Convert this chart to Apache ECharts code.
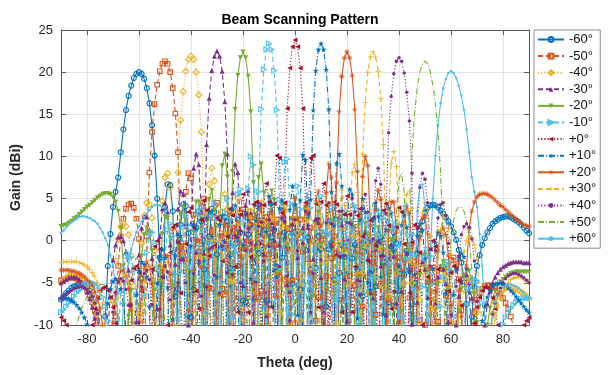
<!DOCTYPE html>
<html><head><meta charset="utf-8">
<script src="https://cdn.jsdelivr.net/npm/echarts@6/dist/echarts.min.js"></script>
<style>html,body{margin:0;padding:0;background:#fff}#c{width:608px;height:375px}</style>
</head><body><div id="c"></div>
<script>
// ---- data ----
const theta = [-90,-89,-88,-87,-86,-85,-84,-83,-82,-81,-80,-79,-78,-77,-76,-75,-74,-73,-72,-71,-70,-69,-68,-67,-66,-65,-64,-63,-62,-61,-60,-59,-58,-57,-56,-55,-54,-53,-52,-51,-50,-49,-48,-47,-46,-45,-44,-43,-42,-41,-40,-39,-38,-37,-36,-35,-34,-33,-32,-31,-30,-29,-28,-27,-26,-25,-24,-23,-22,-21,-20,-19,-18,-17,-16,-15,-14,-13,-12,-11,-10,-9,-8,-7,-6,-5,-4,-3,-2,-1,0,1,2,3,4,5,6,7,8,9,10,11,12,13,14,15,16,17,18,19,20,21,22,23,24,25,26,27,28,29,30,31,32,33,34,35,36,37,38,39,40,41,42,43,44,45,46,47,48,49,50,51,52,53,54,55,56,57,58,59,60,61,62,63,64,65,66,67,68,69,70,71,72,73,74,75,76,77,78,79,80,81,82,83,84,85,86,87,88,89,90];
const thetaRev = [90,89,88,87,86,85,84,83,82,81,80,79,78,77,76,75,74,73,72,71,70,69,68,67,66,65,64,63,62,61,60,59,58,57,56,55,54,53,52,51,50,49,48,47,46,45,44,43,42,41,40,39,38,37,36,35,34,33,32,31,30,29,28,27,26,25,24,23,22,21,20,19,18,17,16,15,14,13,12,11,10,9,8,7,6,5,4,3,2,1,0,-1,-2,-3,-4,-5,-6,-7,-8,-9,-10,-11,-12,-13,-14,-15,-16,-17,-18,-19,-20,-21,-22,-23,-24,-25,-26,-27,-28,-29,-30,-31,-32,-33,-34,-35,-36,-37,-38,-39,-40,-41,-42,-43,-44,-45,-46,-47,-48,-49,-50,-51,-52,-53,-54,-55,-56,-57,-58,-59,-60,-61,-62,-63,-64,-65,-66,-67,-68,-69,-70,-71,-72,-73,-74,-75,-76,-77,-78,-79,-80,-81,-82,-83,-84,-85,-86,-87,-88,-89,-90];
const xTicks = [-80,-60,-40,-20,0,20,40,60,80];
const yTicks = [-10,-5,0,5,10,15,20,25];
const scanNames = ['-60°','-50°','-40°','-30°','-20°','-10°','+0°','+10°','+20°','+30°','+40°','+50°','+60°'];

// negative scans + broadside: values at theta (-90 .. 90)
const gainM60 = [-7,-6.6,-6.2,-5.9,-5.6,-5.4,-5.3,-5.2,-5.2,-5.3,-5.5,-5.9,-6.5,-7.3,-8.5,-12,
-25,-9,-3,0.8,4,5.8,7.5,10.5,13.2,15.5,17.2,18.4,19.3,19.8,20,19.8,19.2,18.1,16.3,13.7,10.1,5,-2,-15,
4,6.7,6.6,3.5,-6.6,
-5.7,1.9,4.3,4.1,0.9,-9.1,
-5.8,1.6,3.5,2.3,-3.4,
-14,0.5,3.8,3.4,-1.6,
-21,-0.8,2.8,2.3,-3.2,
-14.5,-0.4,2.5,1,-7.1,
-7.3,0.7,1.9,-2,
-30,-1.5,2.4,1.3,-7.1,
-7.5,0.4,1.3,-3.1,
-22,-2,1,-0.9,-12.6,
-5.1,1,0.9,-5.8,
-10.4,-1.1,0.4,-3.4,
-30,-3.2,0.5,-1,-10.5,
-7.8,-1,-0.3,-4.6,
-23.5,-3.8,-0.5,-1.9,-10.2,
-10.2,-2.1,-0.5,-3.4,-17.9,
-6.6,-0.8,-0.2,-3.9,-22,
-5.4,-0.3,0.4,-2.5,-14.2,
-7.3,-0.7,1,-0.3,-5.9,
-15,-4,-1.2,-3.5,
-12,-5,-1.5,0.8,2.3,3.3,3.9,4.2,4.3,4.2,4,3.6,3.2,2.8,2.3,1.7,1,0.1,-1.1,-2.6,-4.5,-7.5,-14,-9,-5.5,
-3,-1.7,-0.5,0.3,1,1.5,2,2.3,2.5,2.7,2.8,2.9,2.9,2.8,2.6,2.4,2.2,1.9,1.6,1.2,0.9];

const gainM50 = [-4.7,-4.6,-4.5,-4.4,-4.4,-4.4,-4.5,-4.7,-5,-5.4,-5.9,-6.5,-7.3,-8.3,-9.5,-11,-13,-16,-21,-26,-30,
-9,-3,0.5,2.6,3.8,4.3,4.4,3.9,2.6,0.2,-4.5,-20,
0.5,8.1,12.9,16.2,18.5,20.1,21,21.3,21,20,18.1,15.1,10.5,-0.7,
-1.8,5.8,8,7.4,3.1,-17,
-1.3,4,5,2.7,-5.6,
-5.7,2.7,4.5,2.7,-5.7,
-6.4,1.9,3.5,1.1,-10.7,
-3,3.3,3.7,-0.8,
-20,-0.3,3,1.6,-6.7,
-6,1.9,2.8,-1.6,
-20.5,-0.5,2.5,0.6,-11.1,
-4.6,1.5,1.4,-4.7,
-9.8,0.8,2.5,-1.3,-30,
-2.2,1.5,0,-9.5,
-6.7,0.1,0.6,-4.2,
-16.5,-2.1,0.5,-1.5,-13.1,
-7,-0.9,-0.2,-4.2,-30,
-5.3,-1.1,-1.8,-7.8,
-16,-4.3,-1.6,-2.6,-8.8,
-17,-5.1,-2.1,-2.6,-7,-30,
-7.7,-3,-2,-3.9,-10.2,
-19,-6.8,-3.2,-2.5,-4.2,-9.4,
-30,-10,-4.9,-3.2,-3.2,-4.9,-9.6,-30,
-12.4,-6.5,-3.7,-2.3,-2,-2.7,-4.6,-8.3,-17,
-30,-16,-11,-8.5,-7,-6.2,-5.7,-5.4,-5.3,-5.3,-5.4,-5.6,-5.9,-6.3,-6.8,-7.4,-8.1,-9,-10.2,-11.8,-14,-17,-22,-18,-15];

const gainM40 = [-5,-4.7,-4.4,-4.2,-4,-3.9,-3.9,-4,-4.2,-4.5,-5,-5.6,-6.4,-7.4,-8.7,-10.4,-12.8,-16.5,-24,
-23,-7.2,-2.4,0.2,1.6,2,1.7,0.7,-1.8,-5.4,-15.6,
-8.8,-0.3,3,4.5,4.3,2.7,-1.2,-11.5,
-3,4.7,7.5,8,6.3,1.4,-30,
8.1,14.3,17.7,20.1,21.5,21.9,21.5,20,17.3,12.9,3.2,
-1.8,6.7,8.6,7.1,0.2,
-6.3,3.4,5.5,3.8,-4.8,
-4.7,3.4,5,2.1,-12.4,
-1.8,3.5,3.5,-1.7,
-12.5,2,4.5,2.1,-12.5,
-2.3,2.6,2.4,-3.9,
-8.5,1.8,3.5,-0.3,-30,
-1.2,2.5,0.9,-9.5,
-4.2,2.3,2.6,-3.1,
-12.3,-0.1,2,-0.7,-18,
-2.4,2.2,1.7,-4.9,
-9.8,-0.3,1.5,-1.2,-15.9,
-5,0.4,0.6,-4,
-24,-3.8,-0.2,-0.7,-6.2,
-18.9,-4.1,-0.8,-1,-5.5,-30,
-6.6,-2.4,-1.5,-3.9,-12.5,
-13.7,-5,-2.3,-2.3,-5,-14,
-15.6,-7,-3.7,-3,-4.3,-8.1,-22,
-14.2,-7.6,-4.6,-3.5,-3.9,-5.5,-9.7,-22.5,
-18.5,-11.3,-7.7,-5.8,-4.8,-4.5,-4.9,-6.1,-8.5,-12.5,-23.5,
-22,-14,-10.5,-8.6,-7.4,-6.6,-6.1,-5.8,-5.6,-5.5,-5.5,-5.6,-5.7,-5.9,-6.1,-6.3,-6.6,-6.9];

const gainM30 = [-5,-4.8,-4.6,-4.4,-4.3,-4.3,-4.4,-4.6,-5,-5.5,-6.1,-6.9,-7.9,-9.2,-11,-13.5,-18,-30,
-11.5,-5.7,-2.3,-0.5,0.4,0.5,0,-1.3,-3.5,-7.5,-18.5,
-9.6,-1.7,1.5,2.9,2.8,1.3,-2.1,-11,
-8.1,0.5,3.8,4.5,3.4,-0.5,-12.9,
-2.8,3.8,5.9,5.5,2,-10,
2,8.6,10.3,9,3.4,
-1.5,11.4,16.9,20.2,21.9,22.5,21.9,20.1,16.5,10.3,
-30,5.7,9.1,8.1,1.3,
-5.3,4.2,6,3.3,-11.4,
-0.4,4.6,4.4,-1.6,
-8.9,2.6,4.5,1.5,-30,
-0.5,3.8,2.9,-5.2,
-6,2,2.7,-2,
-14,1.5,4,1.6,-13,
-2.2,2.6,2.2,-4.4,
-8.5,0.8,2.5,-0.6,-30,
-1.6,2.8,1.9,-4.5,
-9.5,0.2,2,-0.3,-12,
-6.3,0,1,-2.1,-17,
-6.8,-1,0,-3,-14.6,
-8.8,-2.2,-0.5,-1.8,-7.4,
-21,-6,-2.2,-1.5,-3.5,-9.9,
-19.5,-7.3,-3.6,-2.5,-3.4,-6.7,-17,
-15.3,-7.4,-4.3,-3,-3.4,-5.1,-9.6,-25,
-16.5,-10,-6.6,-4.9,-4,-4,-5,-6.8,-10.2,-17.6,
-30,-15,-10,-7.5,-6,-5,-4.3,-3.8,-3.4,-3.1,-2.9,-2.7,-2.6,-2.5,-2.5,-2.5,-2.5,-2.6,-2.6,-2.6];

const gainM20 = [1.7,1.8,1.9,2.1,2.3,2.6,2.8,3.1,3.4,3.7,4,4.2,4.5,4.8,5.1,5.3,5.5,5.6,5.6,5.5,5.2,4.6,3.5,1.5,-3,-17,
-9,-5.9,-11.3,-30,
-7.7,-1.8,0.7,1.5,1,-1.2,-5.9,-30,
-4.8,0.8,2.8,2.7,0.3,-5.5,
-16,-0.6,3.2,4,2.2,-3.5,
-14,1,4.6,4.6,1.2,-12,
-1.1,4.9,6,3.6,-6.3,
1.8,8.9,10.3,7.6,-4.1,
8.2,15.6,19.6,21.7,22.4,21.7,19.5,15.3,6.9,
-1.9,7.5,9.1,5.7,-30,
1.8,5.9,4.8,-4.3,
-3.7,3.5,4.2,-0.5,-13.5,
2.6,5,2.6,-13,
-1,3.7,2.8,-4,
-6.6,2.1,3.4,-0.5,
-30,0.6,4,2.4,-7,
-5,2,2.9,-1,-30,
-1.8,2.3,1.7,-4.3,
-12.3,-0.6,2,0.7,-6.4,
-10.8,-0.9,1.5,0.4,-5.4,
-16.5,-3.2,0.1,0.1,-3.5,-18.5,
-8.3,-2.3,-0.5,-1.2,-5.1,-20.5,
-10.2,-4,-1.8,-1.7,-3.5,-9,
-30,-10.1,-5.1,-3.1,-2.5,-3.3,-5.9,-11.5,
-30,-13.6,-8.3,-5.7,-4.2,-3.5,-3.6,-4.6,-6.3,-9.7,-16.5,
-25,-14,-10,-8,-6.8,-6,-5.3,-4.9,-4.6,-4.3,-4.1,-3.9,-3.8,-3.7,-3.7,-3.7,-3.7,-3.7,-3.7];

const gainM10 = [-8.5,-8.2,-7.8,-7.4,-7,-6.6,-6.2,-5.9,-5.6,-5.3,-5.1,-5,-5,-5.1,-5.4,-5.9,-6.7,-7.8,-9.5,-12,-16,-30,
-11.7,-6.1,-3.3,-1.9,-1.5,-2,-3.5,-6.4,-12.5,
-27,-6.3,-1.4,0.6,1,-0.2,-3.3,-11.3,
-12.2,-2.1,1.3,2,0.6,-4,-24,
-3.7,1.6,3,1.9,-3,-30,
-1.2,3.3,3.9,1.3,-8.7,
-4.3,2.9,4.5,2.6,-5.8,
-4.9,3.4,5,2.5,-9.2,
-0.5,5.5,6.1,2.2,-30,
6.2,10,9,1.5,
5.8,15.6,20.3,22.7,23.4,22.7,20.2,15.5,4.9,
2.6,9.3,9.7,4.4,
-8.8,4.3,6.5,3.7,-14.5,
0.4,4.8,3.9,-4.3,
-3.5,4.4,5.3,1.1,
-20,0.8,4,2.4,-7,
-4.5,2.5,3.4,-0.5,
-30,0.2,4.2,3.7,-1.9,
-13,0,3,1.9,-4.3,
-11.3,0.5,3.4,2.7,-2.3,-30,
-2.7,1.3,2,-0.6,-9,
-10.9,-2.1,0.6,0.8,-1.7,-9.3,
-15.8,-5.5,-2,-1,-1.8,-5,-14,
-17,-7.8,-4.3,-2.8,-2.5,-3.6,-6.4,-12,
-32,-15.5,-10.4,-7.5,-5.7,-4.8,-4.5,-4.8,-5.7,-7.4,-10.3,-15.5,-32,
-20,-15,-12.5,-11,-9.9,-9.1,-8.5,-8,-7.6,-7.3,-7.1,-6.9,-6.8,-6.8,-6.8];

const gain0 = [-9.1,-9.5,-10,-10.7,-11.6,-12.8,-14.5,-17,-22,-30,
-18.5,-13.1,-10,-8.1,-6.8,-5.9,-5.6,-5.5,-5.9,-6.7,
-7.9,-9.8,-12.7,-17.8,-32,-14.3,-7.7,-4.7,-3.3,-3,
-3.8,-6,-10.3,-23,-10.5,-3.4,-0.7,0,-1,-4.3,
-13.2,-10,-1.4,1.6,1.9,-0.2,-6.2,-15,-0.4,3.4,
3.9,1.6,-6,-8.1,2.5,4.8,3.6,-1.8,-16,-0.6,
2.7,2.4,-2.4,-16,0.5,3.8,3,-3.1,-8.5,3.1,
5.5,3.1,-8.5,-1.9,4.3,4.6,-0.4,-11.2,4.2,6.8,
4.6,-7.9,4.4,10.1,9.8,3.3,4.5,15.7,20.5,23,
23.8,
23,20.5,15.7,4.5,3.3,9.8,10.1,4.4,-7.9,4.6,
6.8,4.2,-11.2,-0.4,4.6,4.3,-1.9,-8.5,3.1,5.3,
3.1,-8.5,-3.1,3,3.8,0.5,-16,-2.4,2.4,2.7,
-0.6,-16,-1.8,3.6,4.4,1.8,-8.1,-6,1.6,3.9,
3.4,-0.4,-15,-6.2,-0.2,1.9,1.6,-1.4,-10,-13.2,
-4.3,-1,0,-0.7,-3.4,-10.5,-23,-10.3,-6,-3.8,
-3,-3.3,-4.7,-7.7,-14.3,-32,-17.8,-12.7,-9.8,-7.9,
-6.7,-5.9,-5.5,-5.6,-5.9,-6.8,-8.1,-10,-13.1,-18.5,
-30,-22,-17,-14.5,-12.8,-11.6,-10.7,-10,-9.5,-9.1];

// positive scans: values read from right to left, at thetaRev (90 .. -90)
const gainP10 = [-8.5,-8.2,-7.8,-7.4,-7,-6.6,-6.2,-5.9,-5.6,-5.3,-5.1,-5,-5,-5.1,-5.4,-5.9,-6.7,-7.8,-9.5,-12,-16,-30,
-11.7,-6.1,-3.3,-1.9,-1.5,-2,-3.5,-6.4,-12.5,
-27,-6.3,-1.4,0.6,1,-0.2,-3.3,-11.3,
-12.2,-2.1,1.3,2,0.6,-4,-24,
-3.7,1.6,3,1.9,-3,-30,
-1.2,3.3,3.9,1.3,-8.7,
-4.3,2.9,4.5,2.6,-5.8,
-4.9,3.4,5,2.5,-9.2,
-0.5,5.5,6.1,2.2,-30,
6.5,10.3,9.2,1.8,
5.8,15.6,20.3,22.7,23.4,22.7,20.2,15.5,4.9,
2.9,9.6,10.2,4.8,
-8.8,4.3,6.5,3.7,-14.5,
0.4,4.8,3.9,-4.3,
-3.5,4.4,5.3,1.1,
-20,0.8,4,2.4,-7,
-4.5,2.5,3.4,-0.5,
-30,0.2,4.2,3.7,-1.9,
-13,0,3,1.9,-4.3,
-11.3,0.5,3.4,2.7,-2.3,-30,
-2.7,1.3,2,-0.6,-9,
-10.9,-2.1,0.6,0.8,-1.7,-9.3,
-15.8,-5.5,-2,-1,-1.8,-5,-14,
-17,-7.8,-4.3,-2.8,-2.5,-3.6,-6.4,-12,
-32,-15.5,-10.4,-7.5,-5.7,-4.8,-4.5,-4.8,-5.7,-7.4,-10.3,-15.5,-32,
-20,-15,-12.5,-11,-9.9,-9.1,-8.5,-8,-7.6,-7.3,-7.1,-6.9,-6.8,-6.8,-6.8];

const gainP20 = [1.7,1.8,1.9,2.1,2.3,2.6,2.8,3.1,3.4,3.7,4,4.2,4.5,4.8,5.1,5.3,5.5,5.6,5.6,5.5,5.2,4.6,3.5,1.5,-3,-17,
-9,-5.9,-11.3,-30,
-7.7,-1.8,0.7,1.5,1,-1.2,-5.9,-30,
-4.8,0.8,2.8,2.7,0.3,-5.5,
-16,-0.6,3.2,4,2.2,-3.5,
-14,1,4.6,4.6,1.2,-12,
-1.1,4.9,6,3.6,-6.3,
1.8,8.9,10,7.6,-4.1,
8.2,15.6,19.6,21.7,22.4,21.7,19.5,15.3,6.9,
-1.9,7.5,9.1,5.7,-30,
1.8,5.9,4.8,-4.3,
-3.7,3.5,4.2,-0.5,-13.5,
2.6,5,2.6,-13,
-1,3.7,2.8,-4,
-6.6,2.1,3.4,-0.5,
-30,0.6,4,2.4,-7,
-5,2,2.9,-1,-30,
-1.8,2.3,1.7,-4.3,
-12.3,-0.6,2,0.7,-6.4,
-10.8,-0.9,1.5,0.4,-5.4,
-16.5,-3.2,0.1,0.1,-3.5,-18.5,
-8.3,-2.3,-0.5,-1.2,-5.1,-20.5,
-10.2,-4,-1.8,-1.7,-3.5,-9,
-30,-10.1,-5.1,-3.1,-2.5,-3.3,-5.9,-11.5,
-30,-13.6,-8.3,-5.7,-4.2,-3.5,-3.6,-4.6,-6.3,-9.7,-16.5,
-25,-14,-10,-8,-6.8,-6,-5.3,-4.9,-4.6,-4.3,-4.1,-3.9,-3.8,-3.6,-3.6,-3.5,-3.5,-3.5,-3.5];

const gainP30 = [-5,-4.8,-4.6,-4.4,-4.3,-4.3,-4.4,-4.6,-5,-5.5,-6.1,-6.9,-7.9,-9.2,-11,-13.5,-18,-30,
-11.5,-5.7,-2.3,-0.5,0.4,0.5,0,-1.3,-3.5,-7.5,-18.5,
-9.6,-1.7,1.5,2.9,2.8,1.3,-2.1,-11,
-8.1,0.5,3.8,4.5,3.4,-0.5,-12.9,
-2.8,3.8,5.9,5.5,2,-10,
2,8.8,10.6,9.2,3.4,
-1.5,11.4,16.9,20.1,21.8,22.4,21.8,20,16.4,10.3,
-30,5.7,9.1,8.1,1.3,
-5.3,4.2,6,3.3,-11.4,
-0.4,4.6,4.4,-1.6,
-8.9,2.6,4.5,1.5,-30,
-0.5,3.8,2.9,-5.2,
-6,2,2.7,-2,
-14,1.5,4,1.6,-13,
-2.2,2.6,2.2,-4.4,
-8.5,0.8,2.5,-0.6,-30,
-1.6,2.8,1.9,-4.5,
-9.5,0.2,2,-0.3,-12,
-6.3,0,1,-2.1,-17,
-6.8,-1,0,-3,-14.6,
-8.8,-2.2,-0.5,-1.8,-7.4,
-21,-6,-2.2,-1.5,-3.5,-9.9,
-19.5,-7.3,-3.6,-2.5,-3.4,-6.7,-17,
-15.3,-7.4,-4.3,-3,-3.4,-5.1,-9.6,-25,
-16.5,-10,-6.6,-4.9,-4,-4,-5,-6.8,-10.2,-17.6,
-30,-15,-10,-7.5,-6,-5,-4.3,-3.8,-3.4,-3.1,-2.9,-2.7,-2.6,-2.5,-2.5,-2.5,-2.5,-2.5,-2.5,-2.6];

const gainP40 = [-5,-4.7,-4.4,-4.2,-4,-3.9,-3.9,-4,-4.2,-4.5,-5,-5.6,-6.4,-7.4,-8.7,-10.4,-12.8,-16.5,-24,
-23,-7.2,-2.4,0.2,1.6,2,1.7,0.7,-1.8,-5.4,-15.6,
-8.8,-0.3,3,4.5,4.3,2.7,-1.2,-11.5,
-3,4.5,7.3,8,6.3,1.4,-30,
8,14.2,17.6,19.9,21.3,21.7,21.3,19.8,17.1,12.8,3.2,
-1.8,6.7,8.6,7.1,0.2,
-6.3,3.4,5.5,3.8,-4.8,
-4.7,3.4,5,2.1,-12.4,
-1.8,3.5,3.5,-1.7,
-12.5,2,4.5,2.1,-12.5,
-2.3,2.6,2.4,-3.9,
-8.5,1.8,3.5,-0.3,-30,
-1.2,2.5,0.9,-9.5,
-4.2,2.3,2.6,-3.1,
-12.3,-0.1,2,-0.7,-18,
-2.4,2.2,1.7,-4.9,
-9.8,-0.3,1.5,-1.2,-15.9,
-5,0.4,0.6,-4,
-24,-3.8,-0.2,-0.7,-6.2,
-18.9,-4.1,-0.8,-1,-5.5,-30,
-6.6,-2.4,-1.5,-3.9,-12.5,
-13.7,-5,-2.3,-2.3,-5,-14,
-15.6,-7,-3.7,-3,-4.3,-8.1,-22,
-14.2,-7.6,-4.6,-3.5,-3.9,-5.5,-9.7,-22.5,
-18.5,-11.3,-7.7,-5.8,-4.8,-4.5,-4.9,-6.1,-8.5,-12.5,-23.5,
-22,-14,-10.5,-8.6,-7.4,-6.6,-6.1,-5.8,-5.6,-5.5,-5.5,-5.6,-5.7,-5.9,-6.1,-6.3,-6.6,-6.9];

const gainP50 = [-4.7,-4.6,-4.5,-4.4,-4.4,-4.4,-4.5,-4.7,-5,-5.4,-5.9,-6.5,-7.3,-8.3,-9.5,-11,-13,-16,-21,-26,-30,
-9,-3.3,0.2,2.3,3.5,3.9,4,3.6,2.4,0,-4.7,-20,
0.5,8.1,12.9,16.2,18.5,20.1,21,21.3,21,20,18.1,15.1,10.5,-0.7,
-1.8,5.8,8,7.4,3.1,-17,
-1.3,4,5,2.7,-5.6,
-5.7,2.7,4.5,2.7,-5.7,
-6.4,1.9,3.5,1.1,-10.7,
-3,3.3,3.7,-0.8,
-20,-0.3,3,1.6,-6.7,
-6,1.9,2.8,-1.6,
-20.5,-0.5,2.5,0.6,-11.1,
-4.6,1.5,1.4,-4.7,
-9.8,0.8,2.5,-1.3,-30,
-2.2,1.5,0,-9.5,
-6.7,0.1,0.6,-4.2,
-16.5,-2.1,0.5,-1.5,-13.1,
-7,-0.9,-0.2,-4.2,-30,
-5.3,-1.1,-1.8,-7.8,
-16,-4.3,-1.6,-2.6,-8.8,
-17,-5.1,-2.1,-2.6,-7,-30,
-7.7,-3,-2,-3.9,-10.2,
-19,-6.8,-3.2,-2.5,-4.2,-9.4,
-30,-10,-4.9,-3.2,-3.2,-4.9,-9.6,-30,
-12.4,-6.5,-3.7,-2.3,-2,-2.7,-4.6,-8.3,-17,
-30,-15,-10.6,-8.2,-6.8,-6,-5.6,-5.3,-5.2,-5.2,-5.3,-5.5,-5.8,-6.2,-6.7,-7.3,-8,-8.9,-10,-11.6,-13.8,-16.5,-21,-18,-14.5];

const gainP60 = [-7,-6.6,-6.2,-5.9,-5.6,-5.4,-5.3,-5.2,-5.2,-5.3,-5.5,-5.9,-6.5,-7.3,-8.5,-12,
-25,-9,-3,0.8,4,5.8,7.5,10.5,13.2,15.5,17.2,18.4,19.3,19.9,20.1,19.9,19.2,18.1,16.3,13.7,10.1,5,-2,-15,
4,6.7,6.6,3.5,-6.6,
-5.7,1.9,4.3,4.1,0.9,-9.1,
-5.8,1.6,3.5,2.3,-3.4,
-14,0.5,3.8,3.4,-1.6,
-21,-0.8,2.8,2.3,-3.2,
-14.5,-0.4,2.5,1,-7.1,
-7.3,0.7,1.9,-2,
-30,-1.5,2.4,1.3,-7.1,
-7.5,0.4,1.3,-3.1,
-22,-2,1,-0.9,-12.6,
-5.1,1,0.9,-5.8,
-10.4,-1.1,0.4,-3.4,
-30,-3.2,0.5,-1,-10.5,
-7.8,-1,-0.3,-4.6,
-23.5,-3.8,-0.5,-1.9,-10.2,
-10.2,-2.1,-0.5,-3.4,-17.9,
-6.6,-0.8,-0.2,-3.9,-22,
-5.4,-0.3,0.4,-2.5,-14.2,
-7.3,-0.7,1,-0.3,-5.9,
-15,-4,-1.2,-3.5,
-12,-5,-1.5,0.8,2.3,3.3,3.9,4.2,4.3,4.2,4,3.6,3.2,2.8,2.3,1.7,1,0.1,-1.1,-2.6,-4.5,-7.5,-14,-9,-5.5,
-3,-1.7,-0.5,0.3,1,1.5,2,2.3,2.5,2.7,2.8,2.9,2.9,2.8,2.6,2.4,2.2,1.9,1.6,1.2,0.9];

// ---- styles ----
const P = {
  triUp: 'path://M5,0L10,9L0,9Z',
  triDown: 'path://M0,0L10,0L5,9Z',
  triRight: 'path://M0,0L9,5L0,10Z',
  triLeft: 'path://M9,0L0,5L9,10Z',
  star: 'path://M50,0L61,35L98,35L68,57L79,91L50,70L21,91L32,57L2,35L39,35Z',
  plus: 'path://M4.3,0h1.4v4.3h4.3v1.4h-4.3v4.3h-1.4v-4.3h-4.3v-1.4h4.3z',
  aster: 'path://M4.4,0h1.2v10h-1.2z M0,4.4h10v1.2h-10z M1.2,1.9L1.9,1.2L8.8,8.1L8.1,8.8z M8.1,1.2L8.8,1.9L1.9,8.8L1.2,8.1z'
};
const styles = [
  {c:'#0072BD', dash:'solid',   sym:'circle',  size:5,   hollow:true},
  {c:'#D95319', dash:[5,3],     sym:'rect',    size:4.5, hollow:true},
  {c:'#EDB120', dash:[1.2,2],   sym:'diamond', size:6,   hollow:true},
  {c:'#7E2F8E', dash:[5,3],     sym:P.triUp,   size:5,   hollow:false},
  {c:'#77AC30', dash:'solid',   sym:P.triDown, size:5,   hollow:false},
  {c:'#4DBEEE', dash:[5,3],     sym:P.triRight,size:5,   hollow:true},
  {c:'#A2142F', dash:[1.2,2],   sym:P.triLeft, size:5,   hollow:false},
  {c:'#0072BD', dash:[6,2,1,2], sym:P.star,    size:6,   hollow:false},
  {c:'#D95319', dash:'solid',   sym:P.aster,   size:5.5, hollow:false},
  {c:'#EDB120', dash:[5,3],     sym:P.plus,    size:5.5, hollow:false},
  {c:'#7E2F8E', dash:[1.2,2],   sym:'circle',  size:3.5, hollow:false},
  {c:'#77AC30', dash:[6,2,1,2], sym:'none',    size:0,   hollow:false},
  {c:'#4DBEEE', dash:'solid',   sym:'circle',  size:2.5, hollow:false}
];
const xs = [theta,theta,theta,theta,theta,theta,theta,thetaRev,thetaRev,thetaRev,thetaRev,thetaRev,thetaRev];
const ys = [gainM60,gainM50,gainM40,gainM30,gainM20,gainM10,gain0,gainP10,gainP20,gainP30,gainP40,gainP50,gainP60];

const bad = ys.map((a,i)=>a.length!==181 ? scanNames[i]+':'+a.length : null).filter(Boolean);

const FONT = 'Liberation Sans, Arial, Helvetica, sans-serif';
const AX = '#5a5a5a';
const series = scanNames.map((n,i)=>{
  const s = styles[i];
  return {
    name:n, type:'line', xAxisIndex:0, yAxisIndex:0,
    data: xs[i].map((t,k)=>[t, ys[i][k]]),
    symbol: s.sym, symbolSize: s.size, showSymbol: s.sym!=='none',
    lineStyle:{color:s.c, width:1.1, type:s.dash},
    itemStyle: s.hollow ? {color:'rgba(255,255,255,0)', borderColor:s.c, borderWidth:1.1}
                        : {color:s.c, borderWidth:0},
    emphasis:{disabled:true}, silent:true, clip:true, animation:false
  };
});
const legendData = scanNames.map((n,i)=> styles[i].sym==='none'
  ? {name:n, itemStyle:{color:'rgba(0,0,0,0)', borderColor:'rgba(0,0,0,0)', borderWidth:0}}
  : {name:n});

const chart = echarts.init(document.getElementById('c'), null, {renderer:'canvas'});
chart.setOption({
  animation:false,
  backgroundColor:'#fff',
  textStyle:{fontFamily:FONT},
  title:{text: bad.length ? 'LEN ' + bad.join(' ') : 'Beam Scanning Pattern', left:295, top:8, textAlign:'center',
    textStyle:{fontSize:14, fontWeight:'bold', color:'#000', fontFamily:FONT}},
  grid:{left:61, right:79, top:30, bottom:45, containLabel:false},
  legend:{orient:'vertical', left:534, top:30, itemWidth:26, itemHeight:6, itemGap:3.6,
    padding:[3,4,3,3], borderColor:'#8a8a8a', borderWidth:1, backgroundColor:'#fff',
    textStyle:{fontSize:13, lineHeight:13, color:'#111', fontFamily:FONT}, data:legendData},
  xAxis:[
    {type:'value', min:-90, max:90, position:'bottom',
     axisLine:{show:true, onZero:false, lineStyle:{color:AX, width:1}},
     axisTick:{show:true, inside:true, length:5, customValues:xTicks, lineStyle:{color:AX}},
     axisLabel:{customValues:xTicks, color:'#262626', fontSize:13, margin:8, fontFamily:FONT},
     splitLine:{show:true, lineStyle:{color:'#e4e4e4', width:1}},
     name:'Theta (deg)', nameLocation:'middle', nameGap:31,
     nameTextStyle:{fontWeight:'bold', fontSize:14, color:'#262626', fontFamily:FONT}},
    {type:'value', min:-90, max:90, position:'top',
     axisLine:{show:true, onZero:false, lineStyle:{color:AX, width:1}},
     axisTick:{show:true, inside:true, length:5, customValues:xTicks, lineStyle:{color:AX}},
     axisLabel:{show:false}, splitLine:{show:false}}
  ],
  yAxis:[
    {type:'value', min:-10, max:25, interval:5, position:'left',
     axisLine:{show:true, onZero:false, lineStyle:{color:AX, width:1}},
     axisTick:{show:true, inside:true, length:5, lineStyle:{color:AX}},
     axisLabel:{color:'#262626', fontSize:13, margin:8, fontFamily:FONT},
     splitLine:{show:true, lineStyle:{color:'#e4e4e4', width:1}},
     name:'Gain (dBi)', nameLocation:'middle', nameGap:22, nameRotate:90,
     nameTextStyle:{fontWeight:'bold', fontSize:14, color:'#262626', fontFamily:FONT}},
    {type:'value', min:-10, max:25, interval:5, position:'right',
     axisLine:{show:true, onZero:false, lineStyle:{color:AX, width:1}},
     axisTick:{show:true, inside:true, length:5, lineStyle:{color:AX}},
     axisLabel:{show:false}, splitLine:{show:false}}
  ],
  series: series
});
</script></body></html>
